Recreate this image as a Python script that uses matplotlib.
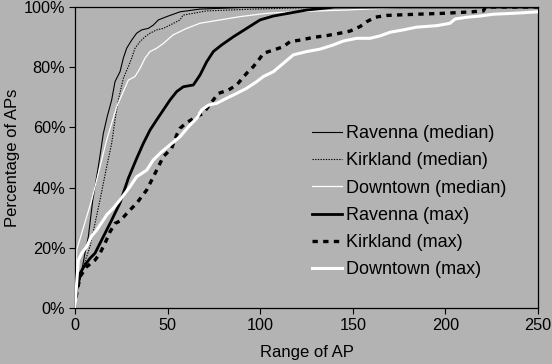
import matplotlib
matplotlib.use("Agg")
import matplotlib.pyplot as plt

# ---- data ----
rav_med_x = [0, 0.3, 2.7, 5.4, 7.2, 9.6, 12.6, 15.3, 17.4, 19.8, 21.6, 24.3, 26.1, 27.9, 30.6, 33.3, 36.0, 39.6, 42.3, 45.0, 49.5, 56.7, 67.5, 96, 250]
rav_med_y = [0, 4.3, 9.3, 18.3, 23.7, 35.9, 46.9, 58.0, 63.6, 69.1, 75.2, 78.5, 83.0, 86.3, 89.0, 91.3, 92.4, 92.9, 94.0, 95.7, 96.8, 98.4, 99.3, 100, 100]

kir_med_x = [0, 0.3, 4.5, 8.1, 10.8, 13.5, 17.1, 19.8, 21.6, 23.4, 26.1, 28.8, 30.6, 32.4, 35.1, 37.8, 40.5, 44.1, 47.7, 51.3, 56.7, 58.3, 71.1, 96.1, 137.7, 250]
kir_med_y = [0, 4.3, 13.7, 20.4, 28.1, 35.9, 46.9, 54.7, 62.5, 69.1, 76.3, 80.2, 83.0, 86.3, 88.5, 90.1, 91.3, 92.4, 92.9, 94.0, 95.7, 97.3, 98.7, 99.3, 100, 100]

dt_med_x = [0, 0.3, 0.9, 3.6, 6.3, 9.0, 13.5, 17.1, 19.8, 22.5, 23.4, 26.1, 28.8, 32.4, 35.1, 37.8, 40.5, 44.1, 47.7, 52.9, 60.3, 67.5, 78.3, 89.1, 103.5, 121.5, 146.7, 175.5, 250]
dt_med_y = [0, 6, 19.3, 24.8, 30.3, 35.9, 46.9, 55.8, 61.4, 66.9, 68.1, 71.9, 75.7, 76.9, 79.6, 83.0, 85.2, 86.3, 87.9, 90.7, 92.9, 94.6, 95.7, 96.8, 97.9, 98.5, 99.0, 99.8, 100]

rav_max_x = [0, 0.3, 0.9, 2.7, 5.4, 8.1, 10.8, 13.5, 17.1, 19.8, 21.6, 24.3, 28.8, 33.3, 36.9, 40.5, 44.1, 47.7, 51.3, 54.9, 58.5, 63.9, 67.5, 71.1, 74.7, 79.2, 85.5, 92.7, 99.9, 107.1, 117.9, 125.1, 137.7, 140, 250]
rav_max_y = [0, 2.7, 6, 11.5, 14.3, 16.5, 18.2, 21.5, 25.9, 29.2, 31.5, 34.9, 43.1, 49.7, 54.7, 59.1, 62.5, 65.8, 69.1, 71.9, 73.5, 74.1, 77.4, 81.8, 85.2, 87.4, 90.1, 92.9, 95.7, 97.0, 98.2, 99.0, 99.8, 100, 100]

kir_max_x = [0, 0.3, 2.7, 6.3, 10.8, 13.5, 16.2, 18.9, 21.6, 24.3, 28.8, 33.3, 38.7, 44.1, 47.7, 52.2, 54.9, 56.7, 60.3, 65.7, 69.3, 73.4, 77.4, 82.8, 87.3, 92.7, 96.3, 99.9, 101.7, 107.1, 112.5, 116.1, 121.5, 128.7, 135.9, 143.1, 148.5, 153.9, 157.5, 162, 168.3, 184.5, 198.9, 214.2, 220.5, 221.4, 222, 250]
kir_max_y = [0, 2.7, 10.4, 13.7, 15.9, 18.2, 21.5, 25.3, 28.1, 28.9, 32.0, 34.8, 39.2, 45.8, 50.3, 53.1, 57.5, 59.7, 61.6, 63.6, 64.7, 68.1, 71.3, 72.4, 74.1, 78.0, 80.2, 83.0, 84.6, 85.7, 86.8, 88.5, 89.0, 89.9, 90.5, 91.3, 92.0, 93.5, 95.1, 96.6, 97.2, 97.6, 97.9, 98.4, 98.7, 99.7, 100, 100]

dt_max_x = [0, 0.3, 0.9, 1.8, 3.6, 6.3, 9.0, 11.7, 15.3, 17.1, 20.7, 24.3, 29.7, 33.3, 38.7, 42.3, 46.8, 51.3, 56.7, 61.2, 65.7, 68.4, 72.0, 76.5, 81.9, 87.3, 92.7, 98.1, 101.7, 107.1, 112.5, 117.9, 125.1, 132.3, 139.5, 144.9, 152.1, 159.3, 164.7, 170.1, 177.3, 184.5, 195.3, 202.5, 205.2, 211.5, 218.7, 225.9, 236.7, 250]
dt_max_y = [0, 2.7, 8.2, 15.9, 18.2, 20.4, 23.9, 25.9, 29.2, 30.9, 33.2, 35.9, 40.3, 43.6, 45.8, 49.2, 51.9, 54.2, 56.9, 60.2, 63.0, 65.8, 67.4, 68.0, 69.7, 71.3, 73.0, 75.2, 76.9, 78.5, 81.3, 84.1, 85.2, 86.0, 87.4, 88.7, 89.6, 89.6, 90.4, 91.6, 92.4, 93.3, 93.8, 94.6, 96.0, 96.6, 97.0, 97.6, 97.9, 98.4]

labels = ["Ravenna (median)", "Kirkland (median)", "Downtown (median)",
          "Ravenna (max)", "Kirkland (max)", "Downtown (max)"]
x_ticks = [0, 50, 100, 150, 200, 250]
y_ticks = [0, 20, 40, 60, 80, 100]
y_ticklabels = ["0%", "20%", "40%", "60%", "80%", "100%"]

# ---- figure ----
plt.rcParams['font.family'] = ['Liberation Sans', 'DejaVu Sans']
bg = "#b3b3b3"
fig = plt.figure(figsize=(5.52, 3.64), dpi=100, facecolor=bg)
ax = fig.add_axes([75/552, 56/364, 463/552, 301/364])
ax.set_facecolor(bg)

ax.plot(rav_med_x, rav_med_y, color="black", lw=0.8, label=labels[0])
ax.plot(kir_med_x, kir_med_y, color="black", lw=0.8, linestyle=(0, (1.2, 1.2)), label=labels[1])
ax.plot(dt_med_x, dt_med_y, color="white", lw=0.9, label=labels[2])
ax.plot(rav_max_x, rav_max_y, color="black", lw=2.0, label=labels[3])
ax.plot(kir_max_x, kir_max_y, color="black", lw=2.4, linestyle=(0, (1.6, 1.6)), label=labels[4])
ax.plot(dt_max_x, dt_max_y, color="white", lw=2.2, label=labels[5], zorder=3)

ax.set_xlim(0, 250)
ax.set_ylim(0, 100)
ax.set_xticks(x_ticks)
ax.set_yticks(y_ticks)
ax.set_yticklabels(y_ticklabels)
ax.tick_params(direction="out", length=4, width=0.8, labelsize=11.7, colors="black", pad=3)
for s in ax.spines.values():
    s.set_linewidth(0.9)
    s.set_color("black")
ax.set_xlabel("Range of AP", fontsize=12, labelpad=9)
ax.set_ylabel("Percentage of APs", fontsize=12, labelpad=3)

leg = ax.legend(loc="upper left", bbox_to_anchor=(312/552, 1 - 125/364),
                bbox_transform=fig.transFigure, frameon=False, fontsize=13,
                handlelength=1.65, handletextpad=0.25, labelspacing=0.57,
                borderpad=0, borderaxespad=0)

fig.savefig("out.png", dpi=100, facecolor=bg)
